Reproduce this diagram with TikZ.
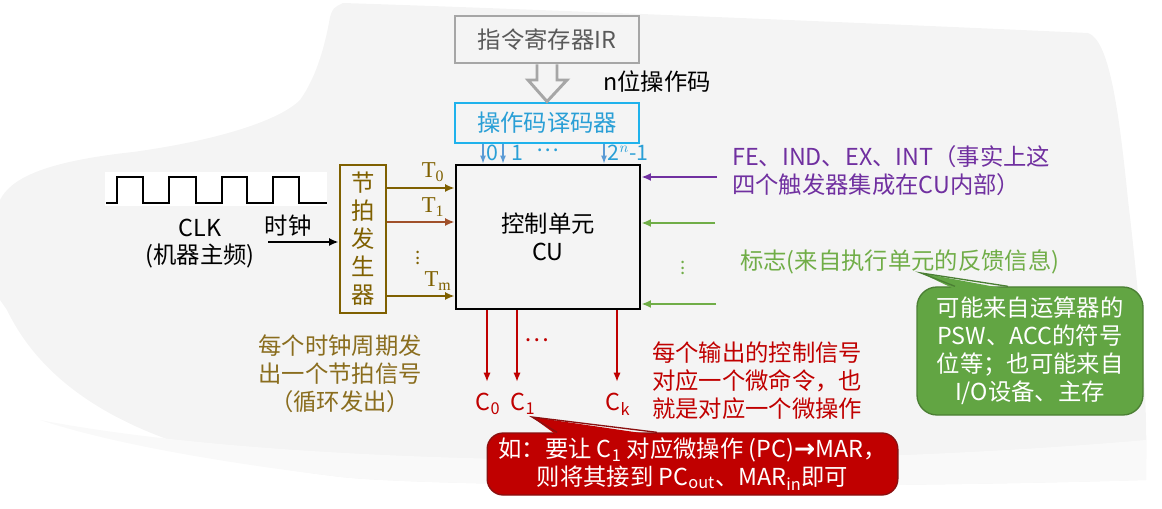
\documentclass[tikz,border=0pt]{standalone}
\usepackage{fontspec}
\setmainfont{Noto Sans CJK SC}
\newfontfamily\serifT{Liberation Serif}
\newfontfamily\djv{DejaVu Sans}
\usetikzlibrary{arrows.meta}
\definecolor{irgray}{HTML}{A6A6A6}
\definecolor{irtext}{HTML}{595959}
\definecolor{deccyan}{HTML}{1FB2EC}
\definecolor{dectext}{HTML}{2A9FD6}
\definecolor{smallblue}{HTML}{5B9BD5}
\definecolor{beatc}{HTML}{7F6000}
\definecolor{beattxt}{HTML}{8A6D1E}
\definecolor{rustc}{HTML}{A0502A}
\definecolor{purpc}{HTML}{7030A0}
\definecolor{grnc}{HTML}{70AD47}
\definecolor{callg}{HTML}{62A543}
\definecolor{callgb}{HTML}{4B7F34}
\definecolor{dredc}{HTML}{C00000}
\definecolor{callrb}{HTML}{8A1010}
\definecolor{bgA}{HTML}{F4F4F4}
\definecolor{bgB}{HTML}{F9F9F9}
\tikzset{
  boxstyle/.style={draw, line width=2.2pt, inner sep=0pt},
  txt/.style={inner sep=0pt},
  bigarrow/.style={line width=1.8pt, -{Latex[length=7pt,width=6pt]}},
  redarrow/.style={line width=1.4pt, dredc, -{Latex[length=7pt,width=5.5pt]}},
  bluearrow/.style={line width=0.8pt, smallblue, -{Latex[length=6pt,width=4.5pt]}},
  tlabel/.style={txt, beatc, font=\fontsize{17}{20}\selectfont\serifT},
  dotsv/.style={inner sep=0pt, font=\fontsize{14}{14}\selectfont},
}
\begin{document}
\begin{tikzpicture}[x=0.75pt,y=-0.75pt, font=\fontsize{17.5}{21}\selectfont]
\useasboundingbox (0,0) rectangle (1162,509);
% background blob
\fill[bgA]
  (343,3) .. controls (500,8) and (800,20) .. (1088,33)
  .. controls (1108,40) and (1118,100) .. (1128,200)
  .. controls (1140,300) and (1148,400) .. (1146,470)
  -- (1146,480) .. controls (800,490) and (400,486) .. (333,476)
  .. controls (200,460) and (60,420) .. (7,310)
  -- (0,300) -- (0,200)
  .. controls (10,180) and (40,162) .. (133,152)
  .. controls (220,140) and (280,120) .. (300,100)
  .. controls (318,75) and (326,40) .. (330,17)
  .. controls (333,8) .. cycle;
\fill[bgB] (40,420) .. controls (300,470) and (800,470) .. (1146,440) -- (1146,480)
  .. controls (800,490) and (400,486) .. (333,476) .. controls (200,460) and (100,440) .. (40,420) -- cycle;
% clock wave
\fill[white] (105,172) rectangle (327,206);
\draw[line width=1.5pt] (106,203) -- (117,203) -- (117,177) -- (143,177) -- (143,203)
  -- (169,203) -- (169,177) -- (196,177) -- (196,203) -- (222,203) -- (222,177)
  -- (247,177) -- (247,203) -- (273,203) -- (273,177) -- (299,177) -- (299,203) -- (327,203);
% main boxes
\node[boxstyle, draw=irgray, minimum width=138pt, minimum height=35.25pt, text=irtext] (ir) at (547,39.5) {指令寄存器IR};
\node[boxstyle, draw=deccyan, minimum width=138pt, minimum height=30pt, text=dectext] (dec) at (547,123) {操作码译码器};
\node[boxstyle, draw=black, minimum width=138pt, minimum height=108pt, align=center] (cu) at (548,237)
  {\fontsize{17.5}{21.5}\selectfont 控制单元\\CU};
\node[boxstyle, draw=beatc, minimum width=34.5pt, minimum height=111pt, text=beatc, align=center] (beat) at (363,239)
  {\fontsize{17.5}{21.5}\selectfont 节\\拍\\发\\生\\器};
% hollow arrow IR -> decoder
\draw[irgray, line width=2.2pt, line join=miter] (ir.south -| 537,0) -- (537,80) -- (528,80) -- (dec.north -| 547,0) -- (567,80) -- (557,80) -- (ir.south -| 557,0);
\node[txt, anchor=west] (nbit) at (603,82) {n位操作码};
% decoder outputs
\draw[bluearrow] (dec.south -| 483,0) -- (cu.north -| 483,0);
\draw[bluearrow] (dec.south -| 503,0) -- (cu.north -| 503,0);
\draw[bluearrow] (dec.south -| 604,0) -- (cu.north -| 604,0);
\begin{scope}[every node/.style={txt, dectext, font=\fontsize{16}{18}\selectfont}]
\node (o0) at (492,153) {0};
\node (o1) at (517,153) {1};
\node (odots) at (548,150) {…};
\node (on) at (628,153) {2$^{n}$-1};
\end{scope}
% clock
\node[txt] (clk) at (200,228) {CLK};
\node[txt] (clk2) at (200,256) {(机器主频)};
\node[txt] (shizhong) at (288,226) {时钟};
\coordinate (clkstart) at (268,242);
\draw[bigarrow, black] (clkstart) -- (beat.west |- clkstart);
% T arrows
\draw[bigarrow, beatc] (beat.east |- 0,188) -- (cu.west |- 0,188);
\draw[bigarrow, rustc] (beat.east |- 0,222) -- (cu.west |- 0,222);
\draw[bigarrow, beatc] (beat.east |- 0,296) -- (cu.west |- 0,296);
\node[tlabel] (t0) at (433,172) {T\textsubscript{0}};
\node[tlabel] (t1) at (433,207) {T\textsubscript{1}};
\node[dotsv, beatc] (tdots) at (418,254) {$\vdots$};
\node[tlabel] (tm) at (438,281) {T\textsubscript{m}};
% right inputs
\coordinate (p1) at (717,177);
\coordinate (g1) at (715,223);
\coordinate (g2) at (716,304);
\draw[bigarrow, purpc, line width=2pt] (p1) -- (cu.east |- p1);
\draw[bigarrow, grnc, line width=2pt] (g1) -- (cu.east |- g1);
\draw[bigarrow, grnc, line width=2pt] (g2) -- (cu.east |- g2);
\node[dotsv, grnc] (gdots) at (683,264) {$\vdots$};
\node[txt, purpc, anchor=west, align=left] (fe) at (732,170.5)
  {\fontsize{17.5}{29}\selectfont FE、IND、EX、INT（事实上这\\四个触发器集成在CU内部）};
\node[txt, grnc, anchor=west] (flag) at (740,262) {标志(来自执行单元的反馈信息)};
% green callout
\node[draw=callgb, fill=callg, line width=1pt, rounded corners=15pt, minimum width=169.5pt, minimum height=96pt,
  text=white, align=center, inner sep=0pt] (gcall) at (1030,351)
  {\fontsize{17.5}{21}\selectfont 可能来自运算器的\\PSW、ACC的符号\\位等；也可能来自\\I/O设备、主存};
\coordinate (gtip) at (921,273);
\fill[callg] ([yshift=-2.25pt]gcall.north -| 955,0) -- (gtip) -- ([yshift=-2.25pt]gcall.north -| 1008,0) -- cycle;
\draw[callgb, line width=1pt] (gcall.north -| 955,0) -- (gtip) -- (gcall.north -| 1008,0);
% outputs
\draw[redarrow] (cu.south -| 487,0) -- (487,382);
\draw[redarrow] (cu.south -| 517,0) -- (517,382);
\draw[redarrow] (cu.south -| 617,0) -- (617,382);
\node[txt, dredc] (cdots) at (537,340) {…};
\node[txt, dredc] (c0) at (488,404) {C\textsubscript{0}};
\node[txt, dredc] (c1) at (523,404) {C\textsubscript{1}};
\node[txt, dredc] (ck) at (618,404) {C\textsubscript{k}};
\node[txt, dredc, anchor=west, align=left] (each) at (652,380.5)
  {\fontsize{17.5}{27.5}\selectfont 每个输出的控制信号\\对应一个微命令，也\\就是对应一个微操作};
\node[txt, beattxt, align=center] (cycle) at (340,374)
  {\fontsize{17.5}{27}\selectfont 每个时钟周期发\\出一个节拍信号\\（循环发出）};
% red callout
\node[draw=callrb, fill=dredc, line width=1pt, rounded corners=12pt, minimum width=308pt, minimum height=46.5pt,
  text=white, align=center, inner sep=0pt] (rcall) at (692.5,464)
  {\fontsize{17.5}{20.5}\selectfont 如：要让 C\textsubscript{1} 对应微操作 (PC){\djv\bfseries\fontsize{19}{20}\selectfont →}MAR，\\则将其接到 PC\textsubscript{out}、MAR\textsubscript{in}即可};
\coordinate (rtip) at (532,417);
\fill[dredc] ([yshift=-2.25pt]rcall.north -| 557,0) -- (rtip) -- ([yshift=-2.25pt]rcall.north -| 657,0) -- cycle;
\draw[callrb, line width=1pt] (rcall.north -| 557,0) -- (rtip) -- (rcall.north -| 657,0);
\end{tikzpicture}
\end{document}
